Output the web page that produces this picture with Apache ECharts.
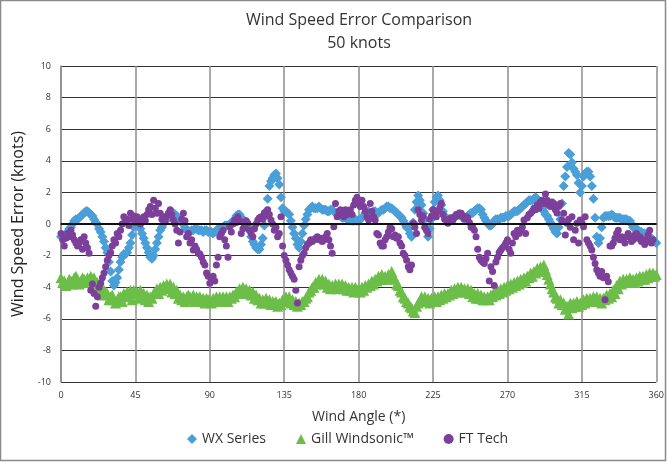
<!doctype html>
<html>
<head>
    <meta charset="utf-8">
    <title>Wind Speed Error Comparison</title>
    <script src="https://cdn.jsdelivr.net/npm/echarts@6/dist/echarts.min.js"></script>
    <style>
        html, body { margin: 0; padding: 0; background: #fff; }
        #main { width: 667px; height: 462px; }
    </style>
</head>
<body>
    <div id="main"></div>
    <script type="text/javascript">
        // angle ticks on the x axis
        var angleTicks = [0, 45, 90, 135, 180, 225, 270, 315, 360];

        // WX Series, readings at even degrees (0..360)
        var wxError = [
            -0.8, -0.7, -0.5, -0.2, 0.2, 0.3, 0.5, 0.7, 0.8, 0.6,
            0.3, 0.0, -0.5, -1.1, -1.8, -3.0, -3.9, -3.4, -2.4, -1.9,
            -1.8, -1.2, -0.2, 0.1, -0.3, -0.9, -1.5, -2.1, -2.0, -1.2,
            -0.4, 0.0, 0.3, 0.5, 0.7, 0.5, 0.3, 0.0, -0.4, -0.5,
            -0.4, -0.3, -0.4, -0.5, -0.4, -0.5, -0.6, -0.4, -0.3, -0.2,
            -0.1, 0.0, 0.1, 0.5, 0.6, 0.3, 0.1, -0.4, -1.1, -1.5,
            -1.6, -0.9, 0.8, 2.4, 2.9, 3.2, 2.5, 1.0, 0.8, 0.6,
            -0.2, -0.9, -1.5, -0.6, 0.3, 0.9, 1.1, 1.0, 1.1, 0.9,
            0.9, 0.8, 0.9, 0.7, 0.6, 0.4, 0.4, 0.3, 0.2, 0.3,
            0.2, 0.4, 0.7, 0.8, 0.7, 0.8, 0.7, 0.9, 1.0, 1.1,
            1.0, 0.8, 0.6, 0.4, 0.0, -0.3, -0.8, 0.9, 1.8, 1.2,
            0.3, -0.8, 0.3, 1.4, 1.8, 1.2, 0.5, 0.3, 0.3, 0.4,
            0.6, 0.5, 0.4, 0.5, 0.7, 0.8, 1.0, 0.9, 0.4, 0.1,
            -0.1, 0.2, 0.3, 0.4, 0.4, 0.5, 0.6, 0.8, 0.8, 1.0,
            1.2, 1.4, 1.5, 1.6, 1.6, 1.2, 0.8, 0.5, 0.1, -0.3,
            -0.6, 0.3, 2.4, 3.6, 4.4, 3.5, 3.1, 2.0, 3.0, 3.3,
            3.0, 1.6, -0.8, -0.9, 0.4, 0.5, 0.5, 0.5, 0.4, 0.4,
            0.3, 0.3, 0.2, -0.2, -0.3, -0.5, -0.6, -0.7, -0.8, -1.0,
            -1.2
        ];

        // WX Series, readings at odd degrees (1..359)
        var wxErrorOdd = [
            -0.8, -0.6, -0.3, 0.0, 0.3, 0.4, 0.6, 0.8, 0.7, 0.5,
            0.1, -0.3, -0.8, -1.5, -2.4, -3.6, -3.7, -2.9, -2.1, -1.9,
            -1.5, -0.7, 0.0, -0.1, -0.6, -1.2, -1.8, -2.2, -1.6, -0.8,
            -0.2, 0.2, 0.4, 0.6, 0.6, 0.4, 0.1, -0.2, -0.5, -0.4,
            -0.3, -0.4, -0.4, -0.4, -0.5, -0.5, -0.5, -0.3, -0.3, -0.1,
            -0.1, 0.1, 0.3, 0.6, 0.4, 0.2, -0.1, -0.8, -1.3, -1.6,
            -1.3, -0.1, 1.6, 2.7, 3.1, 2.9, 1.7, 0.8, 0.7, 0.2,
            -0.6, -1.3, -1.1, -0.1, 0.6, 1.0, 1.0, 1.0, 1.0, 0.9,
            0.8, 0.9, 0.8, 0.7, 0.5, 0.4, 0.3, 0.3, 0.2, 0.2,
            0.3, 0.5, 0.8, 0.7, 0.8, 0.7, 0.8, 0.9, 1.1, 1.0,
            0.9, 0.7, 0.5, 0.2, -0.2, -0.6, 0.1, 1.4, 1.5, 0.7,
            -0.3, -0.3, 0.9, 1.7, 1.5, 0.8, 0.4, 0.3, 0.3, 0.5,
            0.6, 0.4, 0.4, 0.6, 0.7, 0.9, 1.0, 0.6, 0.2, -0.1,
            0.0, 0.3, 0.3, 0.4, 0.5, 0.5, 0.7, 0.8, 0.9, 1.1,
            1.3, 1.5, 1.5, 1.7, 1.4, 1.0, 0.6, 0.3, -0.1, -0.5,
            -0.2, 1.3, 3.0, 4.5, 3.9, 3.3, 2.6, 2.4, 3.2, 3.3,
            2.4, 0.4, -1.2, -0.2, 0.5, 0.5, 0.6, 0.4, 0.4, 0.3,
            0.3, 0.2, 0.0, -0.3, -0.4, -0.5, -0.6, -0.8, -0.9, -1.1
        ];

        // Gill Windsonic, readings at even degrees (0..360)
        var gillError = [
            -3.4, -3.6, -3.8, -3.6, -3.4, -3.5, -3.6, -3.5, -3.4, -3.3,
            -3.4, -3.7, -4.0, -4.2, -4.4, -4.6, -4.8, -4.8, -4.6, -4.4,
            -4.3, -4.2, -4.2, -4.3, -4.2, -4.4, -4.5, -4.6, -4.4, -4.1,
            -4.0, -3.9, -3.8, -3.8, -4.0, -4.2, -4.5, -4.6, -4.6, -4.6,
            -4.5, -4.6, -4.6, -4.7, -4.7, -4.8, -4.7, -4.6, -4.6, -4.6,
            -4.6, -4.6, -4.5, -4.3, -4.1, -4.0, -4.1, -4.2, -4.3, -4.5,
            -4.7, -4.8, -4.7, -4.8, -4.9, -4.9, -5.0, -4.8, -4.6, -4.6,
            -4.8, -4.9, -5.0, -4.9, -4.7, -4.3, -4.0, -3.7, -3.5, -3.5,
            -3.6, -3.8, -3.9, -3.8, -3.8, -3.8, -3.9, -4.0, -4.0, -4.0,
            -4.1, -4.0, -3.9, -3.8, -3.6, -3.5, -3.3, -3.2, -3.3, -3.2,
            -3.0, -3.5, -3.9, -4.3, -4.7, -5.0, -5.3, -5.6, -5.0, -4.6,
            -4.6, -4.7, -4.7, -4.6, -4.6, -4.5, -4.4, -4.4, -4.2, -4.1,
            -4.0, -4.0, -4.1, -4.1, -4.2, -4.4, -4.4, -4.5, -4.6, -4.6,
            -4.5, -4.3, -4.2, -4.1, -4.0, -3.9, -3.8, -3.7, -3.6, -3.5,
            -3.4, -3.3, -3.1, -3.0, -2.8, -2.7, -2.6, -3.2, -3.8, -4.3,
            -4.7, -4.8, -5.0, -5.2, -5.0, -5.0, -4.9, -5.0, -4.8, -4.7,
            -4.7, -4.6, -4.6, -4.7, -4.7, -4.5, -4.4, -4.2, -3.9, -3.6,
            -3.5, -3.5, -3.4, -3.5, -3.4, -3.3, -3.3, -3.2, -3.1, -3.1,
            -3.2
        ];

        // Gill Windsonic, readings at odd degrees (1..359)
        var gillErrorOdd = [
            -3.7, -3.9, -3.5, -3.8, -3.3, -3.8, -3.4, -3.7, -3.6, -3.5,
            -3.9, -4.2, -4.5, -4.3, -4.8, -4.5, -5.0, -4.6, -4.9, -4.6,
            -4.5, -4.8, -4.4, -4.7, -4.5, -4.8, -4.9, -4.7, -4.3, -4.4,
            -4.2, -4.0, -4.1, -4.3, -4.4, -4.7, -4.8, -4.9, -4.5, -4.8,
            -4.9, -4.7, -4.9, -5.0, -4.8, -5.0, -4.9, -4.8, -4.9, -4.8,
            -4.9, -4.7, -4.6, -4.4, -4.3, -4.3, -4.4, -4.5, -4.7, -4.8,
            -5.0, -5.0, -4.9, -5.1, -5.0, -5.2, -5.1, -4.9, -4.8, -5.0,
            -5.1, -5.2, -5.1, -4.9, -4.6, -4.2, -4.0, -3.8, -3.7, -3.8,
            -4.0, -4.1, -4.0, -4.1, -4.0, -4.1, -4.2, -4.2, -4.3, -4.2,
            -4.3, -4.2, -4.0, -3.9, -3.8, -3.6, -3.5, -3.5, -3.5, -3.4,
            -3.3, -3.8, -4.2, -4.6, -4.9, -5.2, -5.5, -5.2, -4.9, -4.9,
            -4.9, -5.0, -4.9, -4.9, -4.8, -4.7, -4.6, -4.5, -4.4, -4.3,
            -4.2, -4.3, -4.3, -4.4, -4.6, -4.7, -4.7, -4.8, -4.8, -4.8,
            -4.6, -4.5, -4.4, -4.3, -4.2, -4.1, -4.0, -3.9, -3.8, -3.7,
            -3.6, -3.4, -3.3, -3.1, -3.0, -2.9, -2.9, -3.5, -4.1, -4.6,
            -5.0, -5.1, -5.4, -5.7, -5.3, -5.2, -5.2, -5.1, -5.0, -4.9,
            -4.9, -4.8, -4.9, -5.0, -4.8, -4.7, -4.6, -4.4, -4.1, -3.8,
            -3.7, -3.7, -3.6, -3.7, -3.6, -3.5, -3.5, -3.4, -3.3, -3.3
        ];

        // FT Tech, one reading per degree (0..358)
        var ftError = [
            -0.6, -1.0, -1.4, -0.9, -0.6, -0.8, -0.4, -0.7, -1.0, -1.2,     // 0
            -1.4, -1.2, -1.0, -1.6, -0.8, -1.2, -1.5, -1.85, -4.2, -3.8,    // 10
            -4.4, -5.2, -4.6, -4.0, -3.75, -3.4, -3.1, -2.7, -2.3, -2.0,    // 20
            -1.8, -1.4, -1.0, -1.2, -0.6, -0.8, -0.4, 0.0, 0.46, 0.2,       // 30
            0.3, -0.1, 0.68, 0.3, 0.5, 0.1, 0.46, 0.2, 0.0, 0.3,            // 40
            0.46, 0.2, 0.6, 0.9, 1.1, 0.6, 1.5, 1.0, 0.68, 1.3,             // 50
            0.68, 0.3, 0.46, 0.2, 0.5, 0.7, 0.9, 0.6, 0.25, 0.0,            // 60
            -0.4, -1.2, -0.5, 0.3, 0.68, 0.2, -0.8, -0.6, -1.2, -1.0,       // 70
            -1.65, -1.4, -1.6, -1.85, -1.9, -2.1, -2.4, -2.6, -3.1, -3.3,   // 80
            -3.75, -3.5, -3.3, -3.6, -2.6, -2.1, -0.8, -0.6, -0.4, -1.0,    // 90
            -1.4, -2.1, -0.17, -0.5, 0.0, 0.25, 0.1, 0.46, 0.2, -0.6,       // 100
            -0.3, -0.17, 0.2, 0.05, -0.4, -0.6, -0.8, -0.3, 0.0, 0.25,      // 110
            0.4, 0.46, 0.3, 0.7, 0.5, 0.9, 0.6, 0.25, 0.0, -0.4,            // 120
            -0.2, -0.8, -0.6, 0.46, -1.4, -2.0, -2.3, -2.6, -2.9, -3.1,     // 130
            -3.3, -3.5, -4.2, -5.0, -2.7, -2.3, -2.0, -1.85, -1.5, -1.3,    // 140
            -1.2, -1.0, -1.1, -1.0, -0.9, -0.8, -1.0, -0.9, -1.1, -1.0,     // 150
            -0.8, -0.6, -1.0, -1.4, -1.85, -0.17, 1.3, 0.46, 0.8, 0.9,      // 160
            0.6, 0.46, 0.9, 0.6, 0.8, 0.9, 0.6, 1.2, 1.5, 1.7,              // 170
            1.3, 1.1, 1.5, 1.1, 0.8, 0.46, 0.25, 1.3, 0.8, 0.46,            // 180
            0.25, -0.6, -0.7, -1.2, -1.4, -1.4, -1.0, -0.8, -0.5, -0.2,     // 190
            -0.3, -0.8, -0.7, -0.9, -0.8, -1.2, -1.4, -1.85, -2.0, -2.3,    // 200
            -2.7, -2.9, -2.6, 0.05, -0.2, -0.6, 0.9, 0.6, 0.25, 0.5,        // 210
            -0.2, -0.4, -0.6, 0.3, 0.5, 0.9, 0.7, 0.46, 0.8, 1.0,           // 220
            1.3, 0.6, 0.3, 0.25, 0.05, 0.3, 0.4, 0.25, 0.46, 0.6,           // 230
            0.5, 0.7, 0.68, 0.5, 0.3, 0.46, 0.4, 0.1, -0.2, -0.2,           // 240
            -0.4, -0.8, -1.6, -2.1, -2.3, -2.4, -2.5, -2.2, -1.85, -3.6,    // 250
            -2.7, -3.0, -3.9, -2.4, -2.1, -1.8, -1.65, -1.5, -1.4, -1.2,    // 260
            -1.0, -1.6, -1.85, -1.2, -0.6, -0.8, -0.4, -0.6, -0.4, -0.2,    // 270
            0.25, -0.6, 0.4, 0.6, 0.68, 0.8, 1.0, 0.9, 1.2, 1.0,            // 280
            1.4, 1.5, 1.3, 1.9, 1.5, 1.2, 1.1, 1.4, 1.3, 0.9,               // 290
            0.7, 1.1, 1.3, 0.25, 0.68, -0.7, 0.05, 0.3, -0.2, 0.46,         // 300
            -1.0, -0.4, 0.05, -1.2, 0.25, 0.1, -0.17, 0.46, -1.0, -1.2,     // 310
            -1.4, -1.65, -2.1, -2.5, -2.9, -3.1, -3.3, -3.0, -3.4, -4.8,    // 320
            -3.3, -3.65, -1.4, -1.4, -1.2, -0.9, -0.6, -0.4, -1.0, -0.8,    // 330
            -1.0, -1.2, -0.8, -0.6, -0.8, -1.1, -1.0, -0.7, -0.6, -0.9,     // 340
            -0.8, -1.1, -1.0, -1.3, -1.0, -0.7, -0.4, -1.2, -1.0            // 350
        ];

        var wxData = wxError.map(function (v, i) { return [i * 2, v]; })
            .concat(wxErrorOdd.map(function (v, i) { return [i * 2 + 1, v]; }));
        var gillData = gillError.map(function (v, i) { return [i * 2, v]; })
            .concat(gillErrorOdd.map(function (v, i) { return [i * 2 + 1, v]; }));
        var ftData = ftError.map(function (v, i) { return [i, v]; });

        var myChart = echarts.init(document.getElementById('main'));
        var font = '"Open Sans", "Noto Sans", sans-serif';

        var option = {
            animation: false,
            backgroundColor: '#fff',
            textStyle: { fontFamily: font },
            graphic: [
                {
                    type: 'rect',
                    shape: { x: 0.5, y: 0.5, width: 665, height: 460 },
                    style: { fill: 'none', stroke: '#8a8a8a', lineWidth: 1.5 },
                    silent: true
                },
                {
                    type: 'text', x: 359, y: 12,
                    style: { text: 'Wind Speed Error Comparison', fontSize: 16, fontFamily: font, fill: '#333', textAlign: 'center' }
                },
                {
                    type: 'text', x: 359, y: 35,
                    style: { text: '50 knots', fontSize: 16, fontFamily: font, fill: '#333', textAlign: 'center' }
                }
            ],
            grid: {
                left: 61,
                right: 10,
                top: 66,
                bottom: 80,
                show: false
            },
            legend: {
                bottom: 11,
                left: 182,
                itemGap: 30,
                itemWidth: 10,
                itemHeight: 10,
                textStyle: { fontSize: 14, color: '#333', fontFamily: font },
                data: [
                    { name: 'WX Series', icon: 'diamond' },
                    { name: 'Gill Windsonic™', icon: 'triangle' },
                    { name: 'FT Tech', icon: 'circle' }
                ]
            },
            xAxis: {
                type: 'value',
                min: 0,
                max: 360,
                interval: 45,
                name: 'Wind Angle (*)',
                nameLocation: 'middle',
                nameGap: 28,
                nameTextStyle: { fontSize: 14, color: '#333', fontFamily: font },
                axisLine: { show: true, lineStyle: { color: '#222', width: 1.5 } },
                axisTick: { show: false },
                axisLabel: {
                    fontSize: 9,
                    color: '#333',
                    margin: 9,
                    formatter: function (v) { return angleTicks.indexOf(v) >= 0 ? v : ''; }
                },
                splitLine: { show: true, lineStyle: { color: '#8c8c8c', width: 1.5 } }
            },
            yAxis: {
                type: 'value',
                min: -10,
                max: 10,
                interval: 2,
                name: 'Wind Speed Error (knots)',
                nameLocation: 'middle',
                nameGap: 34,
                nameTextStyle: { fontSize: 16, color: '#222', fontFamily: font },
                axisLine: { show: true, lineStyle: { color: '#8c8c8c', width: 1.5 } },
                axisTick: { show: false },
                axisLabel: { fontSize: 9, color: '#333', margin: 10 },
                splitLine: { show: true, lineStyle: { color: '#333', width: 1.2 } }
            },
            series: [
                {
                    name: 'WX Series',
                    type: 'scatter',
                    symbol: 'diamond',
                    symbolSize: 10,
                    itemStyle: { color: '#4A9FD8', opacity: 1 },
                    data: wxData,
                    markLine: {
                        silent: true,
                        symbol: 'none',
                        label: { show: false },
                        lineStyle: { color: '#111', width: 2, type: 'solid' },
                        data: [{ yAxis: 0 }]
                    }
                },
                {
                    name: 'Gill Windsonic™',
                    type: 'scatter',
                    symbol: 'triangle',
                    symbolSize: 11,
                    itemStyle: { color: '#6CBE48', opacity: 1 },
                    data: gillData
                },
                {
                    name: 'FT Tech',
                    type: 'scatter',
                    symbol: 'circle',
                    symbolSize: 7,
                    itemStyle: { color: '#7C3F9A', opacity: 1 },
                    data: ftData
                }
            ]
        };

        myChart.setOption(option);
    </script>
</body>
</html>
